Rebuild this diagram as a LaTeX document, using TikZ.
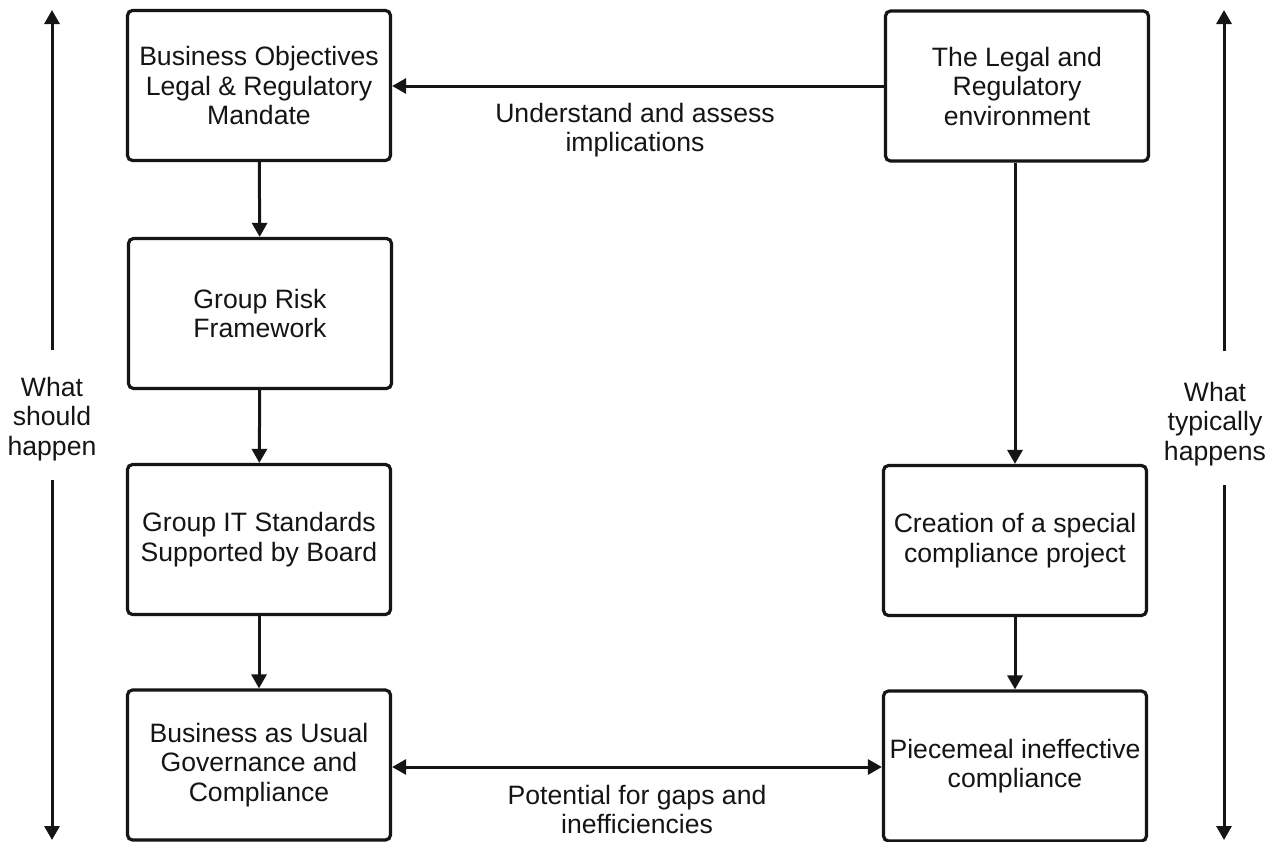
\documentclass[tikz,border=0pt]{standalone}
\usepackage{fontspec}
\setmainfont{Liberation Sans}
\usetikzlibrary{arrows.meta}
\definecolor{ink}{HTML}{151515}
\begin{document}
\begin{tikzpicture}[x=1pt,y=-1pt,
  every node/.style={text=ink, font=\fontsize{26.6}{29.5}\selectfont, align=center, inner sep=0pt},
  stagebox/.style={draw=ink, line width=3.2pt, rounded corners=5pt,
    minimum width=263pt, minimum height=150pt},
  tip/.style={Triangle[length=14pt,width=15pt]},
  flow/.style={draw=ink, line width=3pt, -{Triangle[length=14pt,width=15pt]}},
  twoway/.style={draw=ink, line width=3pt, {Triangle[length=14pt,width=15pt]}-{Triangle[length=14pt,width=15pt]}}]
\useasboundingbox (0,0) rectangle (1279,841);
\fill[white] (0,0) rectangle (1279,841);

% left column: what should happen
\node[stagebox] (bo)  at (259,85.5)  {Business Objectives\\Legal \& Regulatory\\Mandate};
\node[stagebox] (grf) at (260,313.5) {Group Risk\\Framework};
\node[stagebox] (git) at (259,539.5) {Group IT Standards\\Supported by Board};
\node[stagebox] (bau) at (259,765)   {Business as Usual\\Governance and\\Compliance};

% right column: what typically happens
\node[stagebox] (lre) at (1017,86)  {The Legal and\\Regulatory\\environment};
\node[stagebox] (csp) at (1015,540.5) {Creation of a special\\compliance project};
\node[stagebox] (pic) at (1015,766) {Piecemeal ineffective\\compliance};

% vertical flows
\draw[flow] (bo) -- (grf);
\draw[flow] (grf) -- (git);
\draw[flow] (git) -- (bau);
\draw[flow] (lre.south -| csp.north) -- (csp.north);
\draw[flow] (csp) -- (pic);

% horizontal links
\draw[flow] (lre.west |- 0,86) -- (bo.east |- 0,86);
\node (ua) at (635,130) {Understand and assess\\implications};
\draw[twoway] (bau.east |- 0,767) -- (pic.west |- 0,767);
\node (pg) at (637,809.5) {Potential for gaps and\\inefficiencies};

% side axes
\node (ws) at (52,419) {What\\should\\happen};
\node (wt) at (1215,424) {What\\typically\\happens};
\coordinate (lt) at (52,10);
\coordinate (lu) at (52,350);
\coordinate (ld) at (52,480);
\coordinate (lb) at (52,840);
\coordinate (rt) at (1224,10);
\coordinate (ru) at (1224,351);
\coordinate (rd) at (1224,485);
\coordinate (rb) at (1224,840);
\draw[flow] (lu) -- (lt);
\draw[flow] (ld) -- (lb);
\draw[flow] (ru) -- (rt);
\draw[flow] (rd) -- (rb);
\end{tikzpicture}
\end{document}
